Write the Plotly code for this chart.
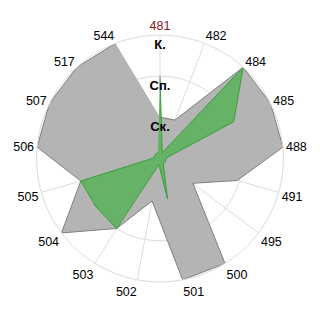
import plotly.graph_objects as go

categories = ["481", "482", "484", "485", "488", "491", "495", "500", "501",
              "502", "503", "504", "505", "506", "507", "517", "544"]
gray_values = [1.0, 1.0, 3.0, 3.0, 3.0, 1.95, 1.0, 3.0, 3.0,
               1.05, 2.0, 3.0, 2.0, 3.0, 3.0, 3.0, 3.0]
green_values = [2.0, 0.15, 3.0, 2.0, 0.15, 0.15, 0.15, 0.15, 1.0,
                0.15, 2.0, 1.95, 2.0, 0.15, 0.15, 0.15, 0.15]
radial_ticks = [1, 2, 3]
radial_labels = ["Ск.", "Сп.", "К."]

ticktext = [f"<span style='color:#8B1A1A'>{c}</span>" if c == "481" else c for c in categories]
label_r = [t - 0.25 for t in radial_ticks]

fig = go.Figure()
fig.add_trace(go.Scatterpolar(
    r=gray_values, theta=categories, fill="toself", mode="lines",
    fillcolor="#B4B4B4", line=dict(color="#7F7F7F", width=1), hoverinfo="skip"))
fig.add_trace(go.Scatterpolar(
    r=green_values, theta=categories, fill="toself", mode="lines",
    fillcolor="#66B266", line=dict(color="#3A9E3A", width=1), hoverinfo="skip"))
fig.add_trace(go.Scatterpolar(
    r=label_r, theta=[categories[0]] * len(radial_ticks), mode="text",
    text=radial_labels, textposition="middle center",
    textfont=dict(family="Liberation Sans, Arial, sans-serif", size=13, color="black", weight="bold"),
    hoverinfo="skip"))

fig.update_layout(
    width=320, height=320,
    margin=dict(l=36, r=36, t=34.5, b=37.5),
    paper_bgcolor="white", plot_bgcolor="white",
    showlegend=False,
    font=dict(family="Liberation Sans, Arial, sans-serif", size=12, color="black"),
    polar=dict(
        bgcolor="white",
        radialaxis=dict(range=[0, 3], tickvals=radial_ticks, showticklabels=False,
                        gridcolor="#DCDCDC", gridwidth=1, showline=False, ticks=""),
        angularaxis=dict(type="category", categoryarray=categories, direction="clockwise",
                         rotation=90, tickvals=categories, ticktext=ticktext,
                         gridcolor="#DCDCDC", linecolor="#DCDCDC", ticks="",
                         tickfont=dict(size=12.5)),
    ),
)
fig.write_html("out.html")
